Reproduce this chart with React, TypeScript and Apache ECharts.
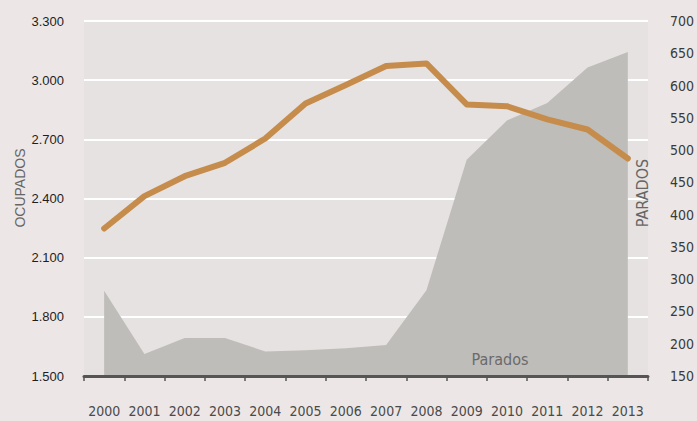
import React, { useEffect, useRef } from "react";
import * as echarts from "echarts";

const years = ["2000", "2001", "2002", "2003", "2004", "2005", "2006", "2007", "2008", "2009", "2010", "2011", "2012", "2013"];
const ocupados = [2248, 2412, 2513, 2581, 2704, 2882, 2975, 3072, 3085, 2877, 2868, 2801, 2750, 2603];
const parados = [282, 184, 209, 209, 188, 190, 193, 198, 283, 485, 546, 573, 628, 652];
const leftName = "OCUPADOS";
const rightName = "PARADOS";
const areaLabel = "Parados";

const NARROW = "'Liberation Sans Narrow', 'Arial Narrow', 'DejaVu Sans Condensed', sans-serif";
const REG = "'Liberation Sans', Arial, sans-serif";

const fmtThousands = (v: number) => String(v).replace(/\B(?=(\d{3})+(?!\d))/g, ".");

export default function App() {
  const ref = useRef<HTMLDivElement>(null);
  useEffect(() => {
    if (!ref.current) return;
    const chart = echarts.init(ref.current, null, { renderer: "svg" });
    chart.setOption({
      animation: false,
      backgroundColor: "#ece7e6",
      grid: {
        left: 84,
        right: 46,
        top: 21,
        bottom: 45,
        show: true,
        backgroundColor: "#e6e2e1",
        borderWidth: 0,
      },
      xAxis: {
        type: "category",
        data: years,
        boundaryGap: true,
        z: 10,
        axisLine: { show: true, lineStyle: { color: "#555555", width: 3 } },
        axisTick: { show: true, length: 5, lineStyle: { color: "#555555", width: 1.5 } },
        axisLabel: {
          interval: 0,
          hideOverlap: false,
          margin: 28,
          color: "#4a4a4a",
          fontSize: 14,
          fontFamily: NARROW,
        },
        splitLine: { show: false },
      },
      yAxis: [
        {
          type: "value",
          min: 1500,
          max: 3300,
          interval: 300,
          position: "left",
          axisLine: { show: false },
          axisTick: { show: false },
          axisLabel: {
            margin: 20,
            color: "#1e1e1e",
            fontSize: 13,
            fontFamily: REG,
            formatter: (v: number) => fmtThousands(v),
          },
          splitLine: { show: true, lineStyle: { color: "#ffffff", width: 2 } },
        },
        {
          type: "value",
          min: 150,
          max: 700,
          interval: 50,
          position: "right",
          axisLine: { show: false },
          axisTick: { show: false },
          axisLabel: { margin: 22, color: "#3a3a3a", fontSize: 14, fontFamily: NARROW },
          splitLine: { show: false },
        },
      ],
      series: [
        {
          name: "Parados",
          type: "line",
          yAxisIndex: 1,
          data: parados,
          symbol: "none",
          lineStyle: { width: 0 },
          areaStyle: { color: "#bfbdba", opacity: 1, origin: "start" },
          z: 2,
        },
        {
          name: "Ocupados",
          type: "line",
          yAxisIndex: 0,
          data: ocupados,
          symbol: "none",
          lineStyle: { width: 6, color: "#c68c4b", cap: "round", join: "round" },
          z: 3,
        },
      ],
      graphic: [
        {
          type: "text",
          x: 20,
          y: 188,
          rotation: Math.PI / 2,
          style: {
            text: leftName,
            fill: "#666666",
            font: `14px ${REG}`,
            align: "center",
            verticalAlign: "middle",
          },
        },
        {
          type: "text",
          x: 642,
          y: 193,
          rotation: Math.PI / 2,
          z: 5,
          style: {
            text: rightName,
            fill: "#666666",
            font: `16px ${NARROW}`,
            align: "center",
            verticalAlign: "middle",
          },
        },
        {
          type: "text",
          x: 500,
          y: 359,
          z: 5,
          style: {
            text: areaLabel,
            fill: "#6a6a6a",
            font: `16px ${NARROW}`,
            align: "center",
            verticalAlign: "middle",
          },
        },
      ],
    });
    return () => chart.dispose();
  }, []);
  return (
    <div
      ref={ref}
      style={{ position: "fixed", left: 0, top: 0, width: 697, height: 421 }}
    />
  );
}
